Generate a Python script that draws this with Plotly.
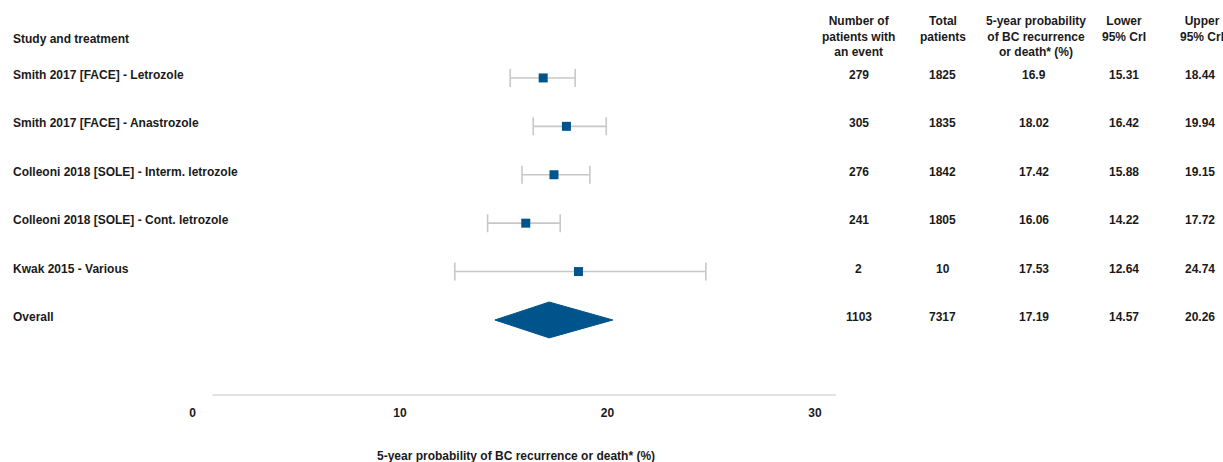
import plotly.graph_objects as go

studies = ["Smith 2017 [FACE] - Letrozole", "Smith 2017 [FACE] - Anastrozole",
           "Colleoni 2018 [SOLE] - Interm. letrozole", "Colleoni 2018 [SOLE] - Cont. letrozole",
           "Kwak 2015 - Various"]
events = ["279", "305", "276", "241", "2", "1103"]
totals = ["1825", "1835", "1842", "1805", "10", "7317"]
prob_txt = ["16.9", "18.02", "17.42", "16.06", "17.53", "17.19"]
lower_txt = ["15.31", "16.42", "15.88", "14.22", "12.64", "14.57"]
upper_txt = ["18.44", "19.94", "19.15", "17.72", "24.74", "20.26"]
# plotted point estimates
plot_est = [16.9, 18.02, 17.42, 16.06, 18.6]
lower = [15.31, 16.42, 15.88, 14.22, 12.64]
upper = [18.44, 19.94, 19.15, 17.72, 24.74]
overall = (14.57, 17.19, 20.26)
xticks = [0, 10, 20, 30]

BLUE = "#00548c"
GREY = "#c8c8c8"
FONT = "Liberation Sans, Arial, sans-serif"
TXT = "#1a1a1a"
FS = 12
W, H = 1223, 462

rows = list(range(len(studies)))
fig = go.Figure()
fig.add_trace(go.Scatter(
    x=plot_est, y=[r + 0.06 for r in rows], mode="markers",
    marker=dict(symbol="square", size=9, color=BLUE),
    error_x=dict(type="data", symmetric=False,
                 array=[u - e for u, e in zip(upper, plot_est)],
                 arrayminus=[e - l for e, l in zip(plot_est, lower)],
                 color=GREY, thickness=1.6, width=9),
    showlegend=False, hoverinfo="skip"))

lo, mid, hi = overall
h = 0.37
oy = 5.06
fig.add_trace(go.Scatter(
    x=[lo, mid, hi, mid, lo], y=[oy, oy - h, oy, oy + h, oy],
    fill="toself", fillcolor=BLUE, line=dict(color=BLUE, width=1),
    mode="lines", showlegend=False, hoverinfo="skip"))

ann = []
def txt(x, y, s, xanchor="center", yanchor="middle"):
    ann.append(dict(x=x, y=y, xref="paper", yref="y", text=s, showarrow=False,
                    xanchor=xanchor, yanchor=yanchor,
                    font=dict(family=FONT, size=FS, color=TXT)))

labels = studies + ["Overall"]
for i, lab in enumerate(labels):
    txt(8 / W, i, "<b>%s</b>" % lab, xanchor="left")
cols = [(858, events), (942, totals), (1034, prob_txt), (1124, lower_txt), (1200, upper_txt)]
for cx, vals in cols:
    for i, v in enumerate(vals):
        txt(cx / W, i, "<b>%s</b>" % v)

txt(8 / W, -0.74, "<b>Study and treatment</b>", xanchor="left")
headers = [(858, "Number of<br>patients with<br>an event"), (942, "Total<br>patients"),
           (1036, "5-year probability<br>of BC recurrence<br>or death* (%)"),
           (1124, "Lower<br>95% CrI"), (1202, "Upper<br>95% CrI")]
for cx, s in headers:
    txt(cx / W, -1.30, "<b>%s</b>" % s, yanchor="top")

ann.append(dict(x=514 / W, y=-(456 - 395) / 395, xref="paper", yref="paper",
                text="<b>5-year probability of BC recurrence or death* (%)</b>",
                showarrow=False, xanchor="center", yanchor="middle",
                font=dict(family=FONT, size=FS, color=TXT)))

x0p, x1p = 190 / W, (190 + 31 * 20.8) / W
fig.update_layout(
    width=W, height=H, margin=dict(l=0, r=0, t=0, b=H - 395),
    paper_bgcolor="white", plot_bgcolor="white",
    annotations=ann,
    xaxis=dict(domain=[x0p, x1p], range=[0, 31], tickvals=xticks,
               ticktext=["<b>%d</b>" % t for t in xticks],
               showgrid=False, zeroline=False, showline=False,
               ticks="outside", ticklen=7, tickcolor="rgba(0,0,0,0)",
               tickfont=dict(family=FONT, size=FS, color=TXT)),
    yaxis=dict(range=[6.61, -1.55], visible=False, showgrid=False, zeroline=False),
    shapes=[dict(type="line", xref="x domain", yref="paper", x0=0.031, x1=1, y0=0, y1=0,
                 line=dict(color="#d9d9d9", width=1.5))],
)
fig.write_html("out.html", config={"displayModeBar": False},
               post_script="document.body.style.margin='0';document.body.style.overflow='hidden';")
